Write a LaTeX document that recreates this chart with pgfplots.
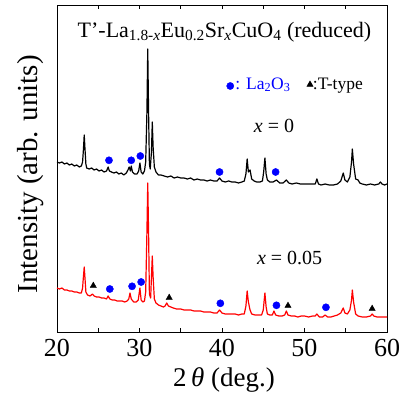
\documentclass[border=0pt]{standalone}
\usepackage{fontspec}
\setmainfont{Liberation Serif}
\usepackage{pgfplots}
\pgfplotsset{compat=1.18}

% traces, intensity offset in pt above the bottom of the frame
\pgfplotstableread{
tt    I
20.0  170
20.3  169
20.6  170
20.9  168
21.2  169
21.5  167
21.8  168
22.1  166
22.4  167
22.7  165
22.95 166
23.1  170
23.2  182
23.3  197
23.4  182
23.5  168
23.6  164
23.9  163
24.2  164
24.5  162
24.8  163
25.1  161
25.4  162
25.7  160
26.0  161
26.2  165
26.35 161
26.6  160
26.9  159
27.2  160
27.5  158
27.8  159
28.1  157
28.4  159
28.6  162
28.75 165
28.9  161
29.0  166
29.15 160
29.4  158
29.7  158
29.9  161
30.05 169
30.2  160
30.4  158
30.6  161
30.75 170
30.9  220
31.0  283
31.1  220
31.2  168
31.3  163
31.45 180
31.55 210
31.65 185
31.8  165
32.0  160
32.3  157
32.6  157
33.0  156
33.4  155
33.8  156
34.2  154
34.6  155
35.0  154
35.4  154
35.8  153
36.2  154
36.6  152
37.0  153
37.4  152
37.8  152
38.2  151
38.6  152
39.0  151
39.4  151
39.7  154
40.0  151
40.4  150
40.8  151
41.2  150
41.6  150
42.0  149
42.4  150
42.7  151
42.9  158
43.05 173
43.2  160
43.4  162
43.6  153
43.9  151
44.2  150
44.6  150
44.9  151
45.05 160
45.2  174
45.35 158
45.5  152
45.8  150
46.2  150
46.6  152
47.0  149
47.4  149
47.8  152
48.1  149
48.5  148
49.0  149
49.5  148
50.0  148
50.5  148
51.0  148
51.3  148
51.5  153
51.7  148
52.0  147
52.5  148
53.0  147
53.5  147
54.0  148
54.4  151
54.7  159
54.9  152
55.2  150
55.5  155
55.7  170
55.8  183
55.95 168
56.2  153
56.5  152
56.7  149
57.0  148
57.5  147
58.0  148
58.5  147
59.0  148
59.2  150
59.4  148
59.7  147
60.0  148
}\xzero

\pgfplotstableread{
tt    I
20.0  44
20.3  43
20.6  44
20.9  42
21.2  42
21.5  41
21.8  41
22.1  40
22.4  40
22.7  39
22.95 39
23.1  44
23.2  55
23.3  65
23.4  53
23.5  40
23.7  37
24.0  36
24.3  38
24.5  36
24.8  35
25.1  35
25.4  34
25.7  34
26.0  33
26.2  36
26.4  33
26.7  32
27.0  32
27.3  31
27.6  31
27.9  31
28.2  30
28.5  31
28.7  33
28.85 39
29.0  33
29.3  30
29.6  30
29.85 32
30.05 44
30.2  32
30.4  30
30.6  31
30.75 40
30.9  100
31.0  149
31.1  100
31.2  38
31.35 34
31.45 55
31.55 76
31.65 55
31.8  33
32.0  29
32.3  27
32.6  26
32.9  25
33.1  26
33.3  29
33.5  26
33.8  25
34.1  24
34.5  23
35.0  23
35.4  22
35.8  22
36.2  22
36.6  21
37.0  21
37.4  21
37.8  20
38.2  20
38.6  20
39.0  19
39.4  19
39.7  22
40.0  19
40.4  18
40.8  18
41.2  18
41.6  18
42.0  17
42.4  18
42.7  18
42.9  26
43.05 41
43.2  30
43.4  22
43.6  18
44.0  17
44.4  17
44.8  17
45.0  22
45.2  39
45.35 25
45.5  18
45.8  17
46.1  17
46.3  21
46.5  17
46.9  16
47.3  16
47.6  17
47.8  21
48.0  17
48.4  16
48.8  16
49.2  15
49.6  16
50.0  16
50.5  15
51.0  16
51.3  16
51.5  18
51.8  15
52.2  15
52.5  17
52.8  15
53.2  15
53.6  16
54.0  17
54.4  19
54.7  24
54.9  19
55.2  18
55.5  22
55.7  32
55.8  42
55.95 30
56.2  18
56.5  16
57.0  15
57.5  15
58.0  16
58.2  18
58.4  16
58.8  15
59.2  15
59.6  15
60.0  15
}\xfive

\definecolor{laox}{RGB}{0,0,255}

\begin{document}
\begin{tikzpicture}
\begin{axis}[
  name=ax,
  scale only axis,
  width=330pt, height=327pt,
  xmin=20, xmax=60, ymin=0, ymax=327,
  xtick={20,30,40,50,60},
  xticklabels={20,30,40,50,60},
  minor xtick={25,35,45,55},
  ytick=\empty,
  major tick length=4pt, minor tick length=4pt,
  every tick/.style={black, line width=0.8pt},
  axis line style={line width=0.9pt},
  xticklabel style={font=\fontsize{26}{30}\selectfont, yshift=-4pt},
  xlabel={2\,\textit{θ} (deg.)},
  xlabel style={font=\fontsize{27}{32}\selectfont, at={(axis description cs:0.506,-0.167)}, anchor=base},
  ylabel={Intensity (arb. units)},
  ylabel style={font=\fontsize{29}{34}\selectfont, at={(axis description cs:-0.06,0.482)}, anchor=base},
  clip=false,
]
\addplot[black, line width=1.2pt, line join=round] table[x=tt, y=I] {\xzero};
\addplot[red, line width=1.2pt, line join=round] table[x=tt, y=I] {\xfive};

% La2O3 reflections
\addplot[only marks, mark=*, mark size=3.6pt, laox, mark options={draw=laox, fill=laox}] coordinates {
  (26.3,171.7) (29.0,171.7) (30.1,176) (39.7,160) (46.5,160)
  (26.4,43) (29.1,45.7) (30.2,50) (39.8,28.7) (46.6,26.7) (52.6,24.7)
  (41.0,246)
};
% T-type reflections
\addplot[only marks, mark=triangle*, mark size=3.6pt, black] coordinates {
  (24.4,46.3) (33.6,34.3) (48.0,26.3) (58.2,23.3)
  (50.67,247.5)
};

\node[anchor=base, font=\fontsize{22}{26}\selectfont] at (axis cs:40.3,295)
  {T’-La\textsubscript{1.8-\textit{x}}Eu\textsubscript{0.2}Sr\textsubscript{\textit{x}}CuO\textsubscript{4} (reduced)};
\node[anchor=base west, inner sep=0pt, text=laox, font=\fontsize{17.5}{21}\selectfont] at (axis cs:41.6,243)
  {: La\textsubscript{2}O\textsubscript{3}};
\node[anchor=base west, inner sep=0pt, font=\fontsize{17.5}{21}\selectfont] at (axis cs:51.0,243) {:T-type};
\node[anchor=base, font=\fontsize{20}{24}\selectfont] at (axis cs:46.3,200) {\textit{x} = 0};
\node[anchor=base, font=\fontsize{20}{24}\selectfont] at (axis cs:48.2,68) {\textit{x} = 0.05};
\end{axis}
\pgfresetboundingbox
\path ([xshift=-57pt,yshift=-68pt]ax.south west) rectangle ([xshift=15pt,yshift=5pt]ax.north east);
\end{tikzpicture}
\end{document}
